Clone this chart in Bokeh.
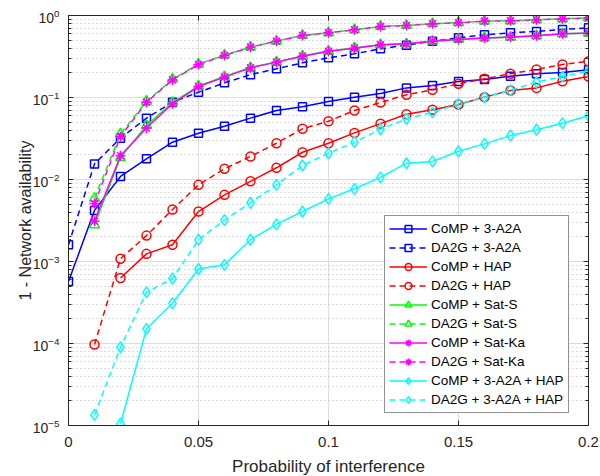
from bokeh.plotting import figure
from bokeh.models import (Range1d, FixedTicker, LinearAxis, LogAxis, Legend, LegendItem,
                          CustomJSTickFormatter)
from bokeh.embed import file_html
from bokeh.resources import INLINE

nan = float("nan")

# ---------------- data ----------------
prob = [0.0, 0.01, 0.02, 0.03, 0.04, 0.05, 0.06, 0.07, 0.08, 0.09, 0.10,
        0.11, 0.12, 0.13, 0.14, 0.15, 0.16, 0.17, 0.18, 0.19, 0.20]

comp_a2a = [5.7e-4, 4.2e-3, 0.0109, 0.0179, 0.0285, 0.0367, 0.0447, 0.056, 0.0694, 0.0769, 0.0894,
            0.101, 0.112, 0.131, 0.14, 0.157, 0.166, 0.182, 0.195, 0.202, 0.218]
da2g_a2a = [1.6e-3, 0.0155, 0.0319, 0.056, 0.0877, 0.116, 0.151, 0.19, 0.224, 0.265, 0.305,
            0.341, 0.393, 0.435, 0.486, 0.535, 0.582, 0.615, 0.638, 0.675, 0.708]
comp_hap = [nan, nan, 6.3e-4, 1.24e-3, 1.6e-3, 4.07e-3, 6.5e-3, 9.5e-3, 0.0139, 0.0215, 0.0277,
            0.037, 0.048, 0.0625, 0.071, 0.0822, 0.101, 0.122, 0.131, 0.158, 0.18]
da2g_hap = [nan, 9.7e-5, 1.08e-3, 2.07e-3, 4.3e-3, 8.6e-3, 0.0135, 0.0191, 0.0277, 0.0415, 0.0514,
            0.0694, 0.0869, 0.108, 0.124, 0.147, 0.169, 0.195, 0.22, 0.253, 0.277]
comp_sats = [nan, 2.8e-3, 0.0185, 0.0456, 0.087, 0.138, 0.18, 0.232, 0.272, 0.32, 0.368,
             0.402, 0.44, 0.452, 0.488, 0.512, 0.532, 0.546, 0.566, 0.598, 0.61]
da2g_sats = [nan, 5.9e-3, 0.036, 0.09, 0.167, 0.256, 0.328, 0.413, 0.488, 0.572, 0.617,
             0.671, 0.736, 0.757, 0.794, 0.817, 0.855, 0.862, 0.888, 0.912, 0.937]
comp_satka = [nan, 3.1e-3, 0.0195, 0.0425, 0.0838, 0.136, 0.177, 0.23, 0.27, 0.319, 0.367,
              0.4, 0.439, 0.452, 0.486, 0.51, 0.53, 0.544, 0.565, 0.598, 0.609]
da2g_satka = [nan, 5.1e-3, 0.0334, 0.0877, 0.164, 0.253, 0.325, 0.411, 0.486, 0.57, 0.615,
              0.669, 0.734, 0.755, 0.792, 0.815, 0.853, 0.86, 0.886, 0.91, 0.935]
comp_a2a_hap = [nan, nan, 1.05e-5, 1.51e-4, 3.1e-4, 8.1e-4, 9.1e-4, 1.84e-3, 2.83e-3, 4.07e-3, 5.8e-3,
                7.7e-3, 0.0106, 0.0158, 0.0166, 0.0221, 0.0272, 0.0344, 0.0404, 0.0486, 0.0598]
da2g_a2a_hap = [nan, 1.35e-5, 9.0e-5, 4.2e-4, 6.2e-4, 1.84e-3, 3.2e-3, 5.2e-3, 8.6e-3, 0.0148, 0.0209,
                0.0285, 0.041, 0.055, 0.066, 0.0835, 0.101, 0.122, 0.154, 0.18, 0.209]

labels = ["CoMP + 3-A2A", "DA2G + 3-A2A", "CoMP + HAP", "DA2G + HAP",
          "CoMP + Sat-S", "DA2G + Sat-S", "CoMP + Sat-Ka", "DA2G + Sat-Ka",
          "CoMP + 3-A2A + HAP", "DA2G + 3-A2A + HAP"]
x_ticks = [0.0, 0.05, 0.1, 0.15, 0.2]
y_ticks = [1e-5, 1e-4, 1e-3, 1e-2, 1e-1, 1.0]
y_minor = [k * 10.0 ** e for e in range(-5, 0) for k in range(2, 10)]

series = [comp_a2a, da2g_a2a, comp_hap, da2g_hap, comp_sats, da2g_sats,
          comp_satka, da2g_satka, comp_a2a_hap, da2g_a2a_hap]
colors = ["#0000ff", "#0000ff", "#ff0000", "#ff0000", "#00ff00", "#00ff00",
          "#ff00ff", "#ff00ff", "#00ffff", "#00ffff"]
markers = ["square", "square", "circle", "circle", "triangle", "triangle",
           "asterisk", "asterisk", "diamond", "diamond"]
msizes = [8, 8, 9, 9, 10, 10, 10, 10, 11, 11]
dashes = ["solid", "6 4"] * 5

FONT = "Liberation Sans"
TXT = "#262626"

p = figure(frame_width=520, frame_height=410, width=600, height=476,
           x_range=Range1d(0, 0.2), y_range=Range1d(1e-5, 1),
           y_axis_type="log", output_backend="svg", toolbar_location=None,
           min_border_left=68, min_border_right=12, min_border_top=15, min_border_bottom=51)
p.background_fill_color = "white"
p.border_fill_color = "white"
p.outline_line_color = TXT
p.outline_line_width = 1

xt = FixedTicker(ticks=x_ticks)
yt = FixedTicker(ticks=y_ticks, minor_ticks=y_minor)
xfmt = CustomJSTickFormatter(code="return Number(tick.toFixed(2)).toString();")
blank = CustomJSTickFormatter(code="return '';")

xa = p.xaxis[0]
xa.ticker = xt
xa.formatter = xfmt
ya = p.yaxis[0]
ya.ticker = yt

for ax in (xa, ya):
    ax.axis_line_color = TXT
    ax.major_tick_line_color = TXT
    ax.minor_tick_line_color = TXT
    ax.major_tick_in = 5
    ax.major_tick_out = 0
    ax.minor_tick_in = 3
    ax.minor_tick_out = 0
    ax.major_label_text_font = FONT
    ax.major_label_text_color = TXT
    ax.axis_label_text_font = FONT
    ax.axis_label_text_color = TXT
    ax.axis_label_text_font_style = "normal"
xa.minor_tick_line_color = None
xa.major_label_text_font_size = "15px"
xa.major_label_standoff = 11
xa.axis_label = "Probability of interference"
xa.axis_label_text_font_size = "17px"
xa.axis_label_standoff = 7
ya.major_label_text_font_size = "14px"
ya.major_label_standoff = 9
ya.axis_label = "1 - Network availability"
ya.axis_label_text_font_size = "16px"
ya.axis_label_standoff = -4

top = LinearAxis(ticker=xt, formatter=blank, major_label_standoff=0,
                 axis_line_color=TXT, major_tick_line_color=TXT, minor_tick_line_color=None,
                 major_tick_in=5, major_tick_out=0)
right = LogAxis(ticker=yt, formatter=blank, major_label_standoff=0,
                axis_line_color=TXT, major_tick_line_color=TXT, minor_tick_line_color=TXT,
                major_tick_in=5, major_tick_out=0, minor_tick_in=3, minor_tick_out=0)
p.add_layout(top, "above")
p.add_layout(right, "right")

p.xgrid.grid_line_color = "#dcdcdc"
p.xgrid.ticker = xt
p.ygrid.grid_line_color = "#dcdcdc"
p.ygrid.ticker = yt
p.ygrid.minor_grid_line_color = "#b8b8b8"
p.ygrid.minor_grid_line_dash = "1 3"

items = []
for ys, c, m, s, d, lab in zip(series, colors, markers, msizes, dashes, labels):
    ln = p.line(prob, ys, line_color=c, line_width=1.5, line_dash=d)
    sc = p.scatter(prob, ys, marker=m, size=s, line_color=c, line_width=1.5,
                   fill_color=None)
    items.append(LegendItem(label=lab, renderers=[ln, sc]))

legend = Legend(items=items, location=(316, 12), orientation="vertical")
legend.label_text_font = FONT
legend.label_text_font_size = "13.5px"
legend.label_text_color = "black"
legend.glyph_width = 38
legend.glyph_height = 17
legend.label_height = 17
legend.label_standoff = 4
legend.spacing = 2
legend.padding = 4
legend.margin = 0
legend.border_line_color = TXT
legend.border_line_width = 1
legend.background_fill_color = "white"
legend.background_fill_alpha = 1.0
p.add_layout(legend)

open("out.html", "w").write(file_html(p, INLINE))
